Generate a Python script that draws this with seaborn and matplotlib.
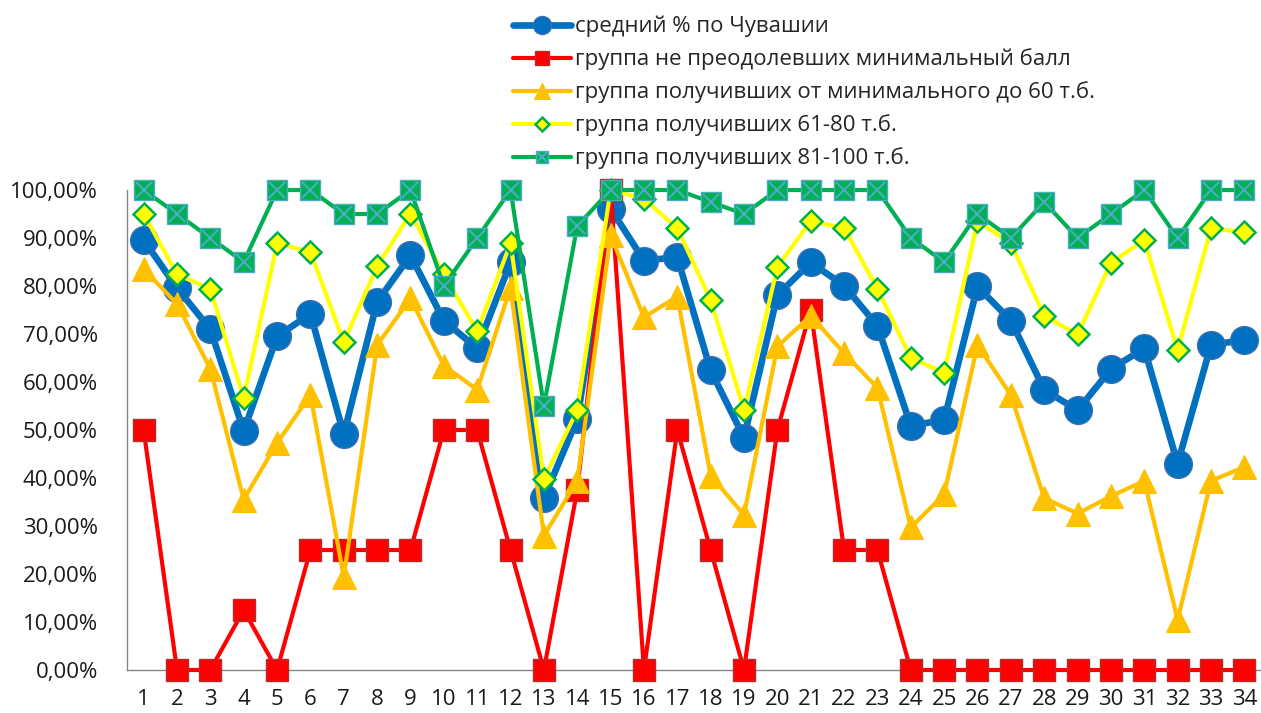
import numpy as np
import pandas as pd
import seaborn as sns
import matplotlib.pyplot as plt
from matplotlib.ticker import FuncFormatter, MultipleLocator, FixedLocator

schools = list(range(1, 35))

# средний % по Чувашии
avg = [89.6, 79.6, 71.0, 49.8, 69.5, 74.2, 49.1, 76.7, 86.4, 72.8,
       67.0, 84.9, 35.8, 52.3, 96.1, 85.3, 86.0, 62.4, 48.4, 78.1,
       84.9, 80.1, 71.7, 50.9, 52.1, 79.9, 72.8, 58.4, 54.1, 62.7,
       67.0, 43.0, 67.7, 68.8]
# группа не преодолевших минимальный балл
below_min = [50, 0, 0, 12.5, 0, 25, 25, 25, 25, 50,
             50, 25, 0, 37.5, 100, 0, 50, 25, 0, 50,
             75, 25, 25, 0, 0, 0, 0, 0, 0, 0,
             0, 0, 0, 0]
# от минимального до 60 т.б.
min_60 = [83.5, 76.3, 62.7, 35.5, 47.3, 57.3, 19.4, 67.7, 77.4, 63.4,
          58.4, 79.6, 28.0, 39.4, 90.6, 73.5, 77.8, 40.5, 32.3, 67.4,
          73.8, 66.0, 58.8, 29.7, 36.6, 67.7, 57.3, 35.8, 32.6, 36.2,
          39.4, 10.4, 39.4, 42.3]
# 61-80 т.б.
p61_80 = [95.1, 82.4, 79.4, 56.6, 88.9, 87.1, 68.3, 84.1, 95.1, 82.4,
          70.6, 88.9, 39.8, 54.1, 100, 98.2, 92.0, 77.1, 54.1, 84.0,
          93.5, 92.1, 79.4, 65.0, 61.9, 93.5, 88.9, 73.8, 69.9, 84.8,
          89.6, 66.7, 92.0, 91.2]
# 81-100 т.б.
p81_100 = [100, 95, 90, 85, 100, 100, 95, 95, 100, 80,
           90, 100, 55, 92.5, 100, 100, 100, 97.5, 95, 100,
           100, 100, 100, 90, 85, 95, 90, 97.5, 90, 95,
           100, 90, 100, 100]

labels = ["средний % по Чувашии",
          "группа не преодолевших минимальный балл",
          "группа получивших от минимального до 60 т.б.",
          "группа получивших 61-80 т.б.",
          "группа получивших 81-100 т.б."]

sns.set_style("white")
plt.rcParams['font.family'] = ['Open Sans', 'DejaVu Sans']

fig = plt.figure(figsize=(12.61, 7.13), dpi=100)
ax = fig.add_axes([0.1007, 0.0603, 0.8993, 0.6732])

x = np.array(schools)
frac = lambda v: np.array(v) / 100.0

sns.lineplot(x=x, y=frac(avg), ax=ax, color="#0070C0", linewidth=4.8,
             marker="o", markersize=20, markerfacecolor="#0070C0",
             markeredgecolor="#3A6FB0", markeredgewidth=1, zorder=3,
             clip_on=False, label=labels[0])
sns.lineplot(x=x, y=frac(below_min), ax=ax, color="#FF0000", linewidth=3,
             marker="s", markersize=15.5, markerfacecolor="#FF0000",
             markeredgecolor="#B03030", markeredgewidth=1, zorder=4,
             clip_on=False, label=labels[1])
sns.lineplot(x=x, y=frac(min_60), ax=ax, color="#FFC000", linewidth=3,
             marker="^", markersize=17, markerfacecolor="#FFC000",
             markeredgecolor="#FFC000", zorder=5,
             clip_on=False, label=labels[2])
sns.lineplot(x=x, y=frac(p61_80), ax=ax, color="#FFFF00", linewidth=3,
             marker="D", markersize=11, markerfacecolor="#FFFF00",
             markeredgecolor="#00B050", markeredgewidth=1.8, zorder=6,
             clip_on=False, label=labels[3])
sns.lineplot(x=x, y=frac(p81_100), ax=ax, color="#00B050", linewidth=3,
             marker="s", markersize=14, markerfacecolor="#00B050",
             markeredgecolor="#4BACC6", markeredgewidth=1, zorder=7,
             clip_on=False, label=labels[4])
sns.lineplot(x=x, y=frac(p81_100), ax=ax, linestyle="none",
             marker="x", markersize=12, markeredgecolor="#4BACC6",
             markeredgewidth=1.5, zorder=8, clip_on=False, label="_nolegend_")

handles, _ = ax.get_legend_handles_labels()
ax.get_legend().remove()
green_x = ax.lines[-1]
handles = handles[:5]
handles[4] = (handles[4], green_x)
fig.legend(handles, labels, loc="upper left",
           bbox_to_anchor=(504 / 1261, 1 - 7 / 713), frameon=False,
           fontsize=16, handlelength=2.6, handletextpad=0.2,
           labelspacing=0.5, borderaxespad=0, markerscale=0.65)

ax.set_xlim(0.5, 34.5)
ax.set_ylim(0, 1)
ax.yaxis.set_major_locator(MultipleLocator(0.1))
ax.yaxis.set_major_formatter(FuncFormatter(
    lambda v, p: f"{v * 100:.2f}%".replace(".", ",")))
ax.xaxis.set_major_locator(FixedLocator(schools))
ax.xaxis.set_minor_locator(FixedLocator(np.arange(0.5, 35, 1)))
ax.tick_params(axis="x", which="major", length=0, labelsize=16, pad=14,
               labelcolor="#1a1a1a")
ax.tick_params(axis="x", which="minor", length=6, color="#868686",
               direction="out")
ax.tick_params(axis="y", which="major", length=7, color="#868686",
               direction="out", labelsize=16, labelcolor="#1a1a1a", pad=14)

for s in ["top", "right"]:
    ax.spines[s].set_visible(False)
for s in ["left", "bottom"]:
    ax.spines[s].set_color("#868686")
    ax.spines[s].set_linewidth(1)
ax.set_xlabel("")
ax.set_ylabel("")

fig.savefig("out.png", dpi=100)
